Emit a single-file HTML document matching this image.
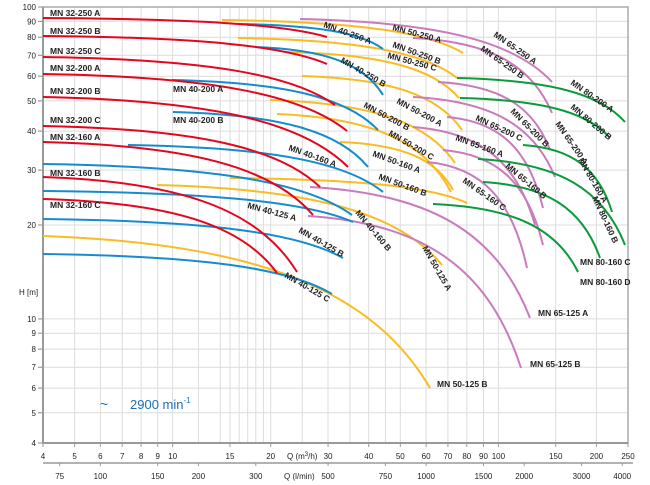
<!DOCTYPE html>
<html><head><meta charset="utf-8">
<style>
html,body{margin:0;padding:0;background:#fff;}
svg{display:block;font-family:"Liberation Sans",Arial,sans-serif;}
.l{font-size:8.5px;font-weight:bold;fill:#222;}
.t{font-size:8px;fill:#222;}
</style></head><body>
<svg id="s" width="650" height="485" viewBox="0 0 650 485" xmlns="http://www.w3.org/2000/svg"></svg>
<script>
var s=document.getElementById('s'),h='';
function fx(q){return 43+585*Math.log10(q/4)/Math.log10(62.5);}
function fy(H){return 7+311.9*Math.log10(100/H);}
// grid
[4,5,6,7,8,9,10,12,14,15,16,17,18,19,20,25,30,35,40,45,50,60,70,80,90,100,150,200,250].forEach(function(q){var x=fx(q).toFixed(1);h+='<line x1="'+x+'" y1="7" x2="'+x+'" y2="443" stroke="#dcdcdc" stroke-width="1"/>';});
[4,5,6,7,8,9,10,20,30,40,50,60,70,80,90,100].forEach(function(H){var y=fy(H).toFixed(1);h+='<line x1="43" y1="'+y+'" x2="628" y2="'+y+'" stroke="#dcdcdc" stroke-width="1"/>';h+='<line x1="38" y1="'+y+'" x2="43" y2="'+y+'" stroke="#888"/>';h+='<text class="t" x="36" y="'+(+y+3)+'" text-anchor="end">'+H+'</text>';});
h+='<rect x="43" y="7" width="585" height="436" fill="none" stroke="#aaa" stroke-width="1.5"/>';
h+='<line x1="43" y1="7" x2="43" y2="443" stroke="#999" stroke-width="2"/>';
h+='<line x1="43" y1="443" x2="628" y2="443" stroke="#999" stroke-width="2"/>';
h+='<line x1="43" y1="463" x2="633" y2="463" stroke="#999" stroke-width="1.5"/>';
[4,5,6,7,8,9,10,15,20,30,40,50,60,70,80,90,100,150,200,250].forEach(function(q){var x=fx(q);h+='<line x1="'+x+'" y1="443" x2="'+x+'" y2="447" stroke="#999"/><text class="t" x="'+x+'" y="459" text-anchor="middle">'+q+'</text>';});
h+='<text class="t" x="287" y="459">Q (m<tspan font-size="6" dy="-3">3</tspan><tspan dy="3">/h)</tspan></text>';
[75,100,150,200,300,500,750,1000,1500,2000,3000,4000].forEach(function(L){var x=fx(L*0.06);h+='<line x1="'+x+'" y1="463" x2="'+x+'" y2="466" stroke="#999"/><text class="t" x="'+x+'" y="479" text-anchor="middle">'+L+'</text>';});
h+='<text class="t" x="284" y="479">Q (l/min)</text>';
h+='<text class="t" x="19" y="295">H [m]</text>';
h+='<text x="100" y="409" font-size="14" fill="#1a6fb5">~</text><text x="130" y="409" font-size="13" fill="#1a6fb5">2900 min<tspan font-size="8" dy="-6">-1</tspan></text>';
function c(col,a){var x0=a[0],y0=a[1],x1=a[2],y1=a[3],dx=x1-x0,dy=y1-y0;
h+='<path d="M'+x0+' '+y0+' C'+(x0+0.55*dx)+' '+(y0+0.05*dy)+' '+(x0+0.85*dx)+' '+(y0+0.35*dy)+' '+x1+' '+y1+'" fill="none" stroke="'+col+'" stroke-width="2"/>';}
var Y='#f9bc22',P='#c97bbd',G='#0b9a3c',B='#148ccd',R='#e3061e';
[[222,20,463,53],[238,38,457,78],[287,52,459,98],[302,76,462,130],[270,100,455,163],[277,114,451,192],[340,142,453,190],[230,178,467,203],[157,185,442,265],[43,236,430,388]].forEach(function(a){c(Y,a);});
[[300,19,552,82],[413,38,552,113],[438,82,550,150],[413,97,555,177],[447,117,543,208],[413,127,535,225],[443,150,543,245],[427,162,527,268],[310,187,530,318],[308,216,521,368]].forEach(function(a){c(P,a);});
[[457,78,625,122],[460,98,610,138],[523,145,612,212],[478,159,625,245],[483,182,600,258],[433,204,578,272]].forEach(function(a){c(G,a);});
[[238,24,383,49],[255,47,383,95],[172,80,378,130],[173,112,368,167],[128,145,383,192],[43,164,352,215],[43,191,353,222],[43,219,343,258],[43,254,332,294]].forEach(function(a){c(B,a);});
[[43,18,327,37],[43,36,327,64],[43,57,335,105],[43,74,347,131],[43,97,348,167],[43,126,320,187],[43,142,313,215],[43,177,297,272],[43,199,277,273]].forEach(function(a){c(R,a);});
function L(t,x,y,r){h+='<text class="l" x="'+x+'" y="'+y+'"'+(r?' transform="rotate('+r+' '+x+' '+y+')"':'')+'>'+t+'</text>';}
[['MN 32-250 A',16],['MN 32-250 B',34],['MN 32-250 C',54],['MN 32-200 A',71],['MN 32-200 B',94],['MN 32-200 C',123],['MN 32-160 A',140],['MN 32-160 B',176],['MN 32-160 C',208]].forEach(function(a){L(a[0],50,a[1]);});
L('MN 40-200 A',173,92);L('MN 40-200 B',173,123);
[['MN 40-250 A',323,27,20],['MN 50-250 A',392,30,15],['MN 50-250 B',392,47,20],['MN 50-250 C',387,58,15],['MN 40-250 B',340,62,30],['MN 65-250 A',493,36,35],['MN 65-250 B',480,50,35],['MN 80-200 A',570,84,35],['MN 80-200 B',570,108,40],['MN 50-200 A',396,103,28],['MN 50-200 B',363,107,28],['MN 65-200 C',475,120,25],['MN 65-200 B',510,112,45],['MN 65-200 A',555,124,55],['MN 50-200 C',388,135,30],['MN 65-160 A',455,140,20],['MN 80-160 A',578,160,60],['MN 40-160 A',288,150,20],['MN 50-160 A',372,156,20],['MN 65-160 B',505,167,40],['MN 50-160 B',378,179,20],['MN 65-160 C',462,182,35],['MN 80-160 B',592,198,65],['MN 40-125 A',247,208,15],['MN 40-160 B',355,213,50],['MN 40-125 B',298,232,30],['MN 50-125 A',422,248,60],['MN 40-125 C',284,277,30]].forEach(function(a){L(a[0],a[1],a[2],a[3]);});
L('MN 80-160 C',580,265);L('MN 80-160 D',580,285);L('MN 65-125 A',538,316);L('MN 65-125 B',530,367);L('MN 50-125 B',437,387);
s.innerHTML=h;
</script>
</body></html>
